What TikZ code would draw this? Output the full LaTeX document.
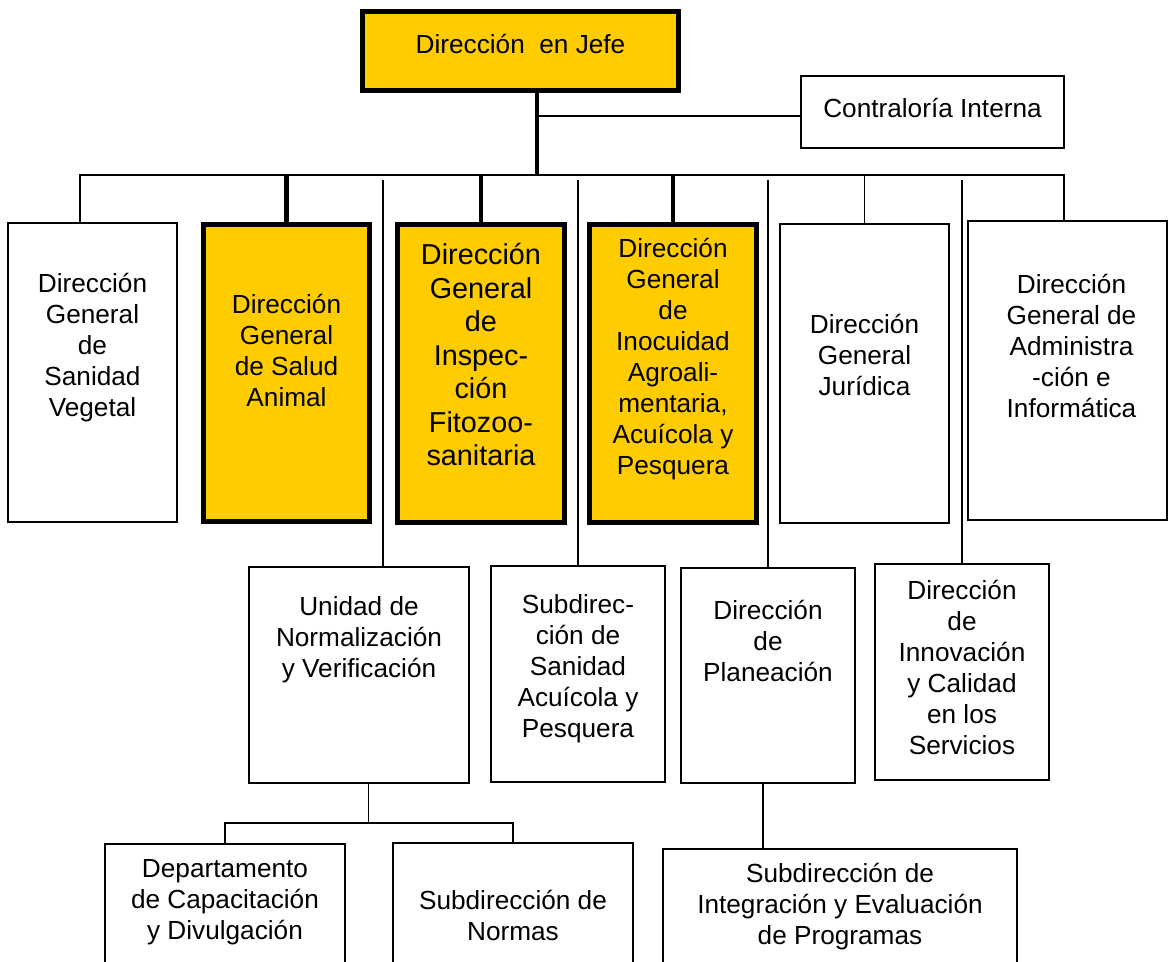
\documentclass[tikz,border=0pt]{standalone}
\usepackage{fontspec}
\setmainfont{Liberation Sans}
\usepackage{tikz}
\usepackage{xcolor}
\definecolor{oro}{HTML}{FFCC00}

\begin{document}
\begin{tikzpicture}[x=0.5pt,y=-0.5pt,font=\fontsize{13.1}{15.5}\selectfont]%
  \tikzstyle{unit}=[rectangle,draw,line width=0.7pt,inner sep=0pt]
  \tikzstyle{keyunit}=[rectangle,draw,fill=oro,line width=2.5pt,inner sep=0pt]
  \tikzstyle{link}=[line width=0.7pt]
  \tikzstyle{heavy}=[line width=2.3pt]
  \tikzstyle{every label}=[align=center,inner sep=0pt]
  \useasboundingbox (0,0) rectangle (1169,962);
  \clip (0,0) rectangle (1169,962);
  \node(jefe)[keyunit,minimum width=158pt,minimum height=39.5pt,label={[yshift=3.5pt]center:Dirección~ en Jefe}] at (520.5,51) {};
  \node(contra)[unit,minimum width=131.5pt,minimum height=36pt,label={[yshift=2pt]center:Contraloría Interna}] at (932.5,112) {};
  \node(sv)[unit,minimum width=84.5pt,minimum height=149.5pt,label={[yshift=12.25pt]center:Dirección\\General\\de\\Sanidad\\Vegetal}] at (92.5,372.5) {};
  \node(sa)[keyunit,minimum width=83pt,minimum height=148.5pt,label={[yshift=11.5pt]center:Dirección\\General\\de Salud\\Animal}] at (286.5,373) {};
  \node(insp)[keyunit,minimum width=83.5pt,minimum height=149pt,label={[yshift=9.25pt,font=\fontsize{14.4}{16.75}\selectfont]center:Dirección\\General\\de\\Inspec-\\ción\\Fitozoo-\\sanitaria}] at (481,373.5) {};
  \node(inoc)[keyunit,minimum width=83.5pt,minimum height=149pt,label={[yshift=7pt]center:Dirección\\General\\de\\Inocuidad\\Agroali-\\mentaria,\\Acuícola y\\Pesquera}] at (673,373.5) {};
  \node(jur)[unit,minimum width=84.5pt,minimum height=149.5pt,label={[yshift=9.5pt]center:Dirección\\General\\Jurídica}] at (864.5,373.5) {};
  \node(adm)[unit,minimum width=99.5pt,minimum height=149.5pt,label={[yshift=12.5pt,xshift=2pt]center:Dirección\\General de\\Administra\\-ción e\\Informática}] at (1067.5,370.5) {};
  \node(uni)[unit,minimum width=110pt,minimum height=108pt,label={[yshift=17.5pt]center:Unidad de\\Normalización\\y Verificación}] at (359,675) {};
  \node(ssan)[unit,minimum width=87pt,minimum height=108pt,label={[yshift=2.5pt]center:Subdirec-\\ción de\\Sanidad\\Acuícola y\\Pesquera}] at (578,674) {};
  \node(plan)[unit,minimum width=87pt,minimum height=107.5pt,label={[yshift=17.5pt]center:Dirección\\de\\Planeación}] at (768,675.5) {};
  \node(inn)[unit,minimum width=87pt,minimum height=108pt,label={[yshift=2.25pt]center:Dirección\\de\\Innovación\\y Calidad\\en los\\Servicios}] at (962,672) {};
  \node(dep)[unit,minimum width=120pt,minimum height=73pt,label={[yshift=7.5pt]center:Departamento\\de Capacitación\\y Divulgación}] at (225,917) {};
  \node(nor)[unit,minimum width=120pt,minimum height=73.5pt,label={[yshift=0.75pt]center:Subdirección de\\Normas}] at (513,916.5) {};
  \node(integ)[unit,minimum width=177pt,minimum height=70.5pt,label={[yshift=6.5pt]center:Subdirección de\\Integración y Evaluación\\de Programas}] at (840,919.5) {};
  \coordinate (trunk) at (537,175);
  \coordinate (ctap) at (537,116);
  \coordinate (barL) at (80,175);
  \coordinate (barR) at (1064,175);
  \coordinate (tap) at (0,180);
  \coordinate (tapU) at (383,180);
  \coordinate (forkU) at (368.5,823);
  \coordinate (planOut) at (763,783);
  \draw[heavy] (jefe.south -| trunk) -- (trunk);
  \draw[link] (ctap) -- (ctap -| contra.west);
  \draw[link] (sv.north -| barL) -- (barL) -- (barR) -- (adm.north -| barR);
  \draw[heavy] (sa.north |- trunk) -- (sa.north);
  \draw[heavy] (insp.north |- trunk) -- (insp.north);
  \draw[heavy] (inoc.north |- trunk) -- (inoc.north);
  \draw[link] (jur.north |- trunk) -- (jur.north);
  \draw[link] (tapU) -- (tapU |- uni.north);
  \draw[link] (ssan.north |- tap) -- (ssan.north);
  \draw[link] (plan.north |- tap) -- (plan.north);
  \draw[link] (inn.north |- tap) -- (inn.north);
  \draw[link] (uni.south -| forkU) -- (forkU);
  \draw[link] (dep.north) -- (dep.north |- forkU) -- (nor.north |- forkU) -- (nor.north);
  \draw[link] (planOut) -- (planOut |- integ.north);
\end{tikzpicture}
\end{document}
